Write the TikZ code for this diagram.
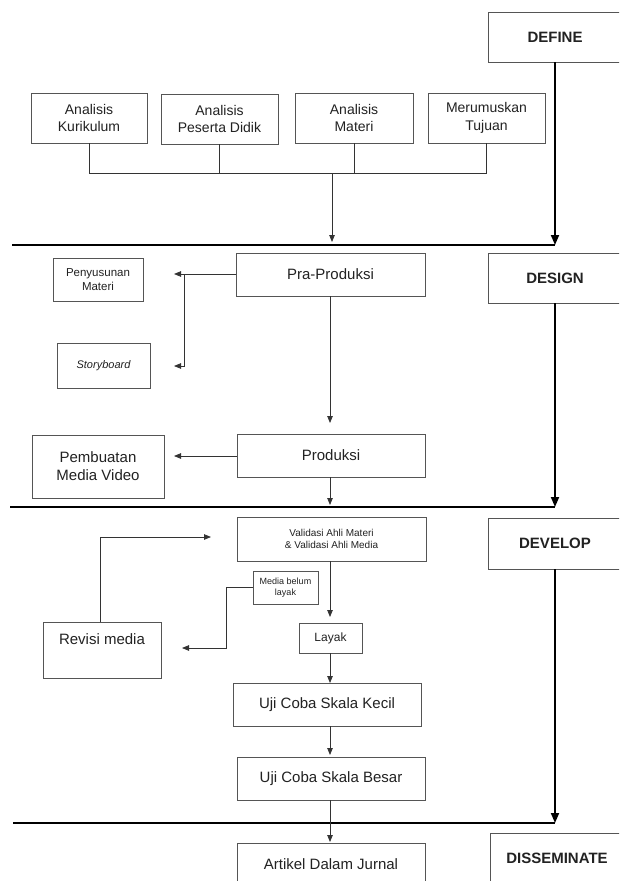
\documentclass[tikz,border=0pt]{standalone}
\usepackage{fontspec}
\setmainfont{Liberation Sans}
\usetikzlibrary{arrows.meta}
\definecolor{boxgray}{HTML}{555555}
\definecolor{txt}{HTML}{222222}
\definecolor{lin}{HTML}{333333}
\begin{document}
\begin{tikzpicture}[x=1pt,y=-1pt,
  box/.style={draw=boxgray, line width=0.9pt, text=txt, align=center, inner sep=0pt, fill=white},
  phase/.style={box, font=\fontsize{15}{18}\selectfont\bfseries, minimum width=134pt, minimum height=50pt},
  f15/.style={font=\fontsize{15}{18}\selectfont},
  f14/.style={font=\fontsize{14}{17.5}\selectfont},
  conn/.style={draw=lin, line width=0.8pt, -{Triangle[length=7pt,width=5.5pt]}},
  plainline/.style={draw=lin, line width=0.8pt},
  bigline/.style={draw=black, line width=2.2pt},
  phasearrow/.style={draw=black, line width=1.8pt, -{Triangle[length=10pt,width=8pt]}}]
\useasboundingbox (0,0) rectangle (619,881);
\clip (0,0) rectangle (619,881);

% phase boxes
\node[phase] (define) at (555,37) {DEFINE};
\node[phase] (design) at (555,278) {DESIGN};
\node[phase, minimum height=51pt] (develop) at (555,543.5) {DEVELOP};
\node[phase] (dissem) at (557,858) {DISSEMINATE};

% define stage
\node[box, f14, minimum width=116pt, minimum height=50pt] (ak) at (89,118) {Analisis\\Kurikulum};
\node[box, f14, minimum width=117pt, minimum height=50pt] (apd) at (219.5,119) {Analisis\\Peserta Didik};
\node[box, f14, minimum width=118pt, minimum height=50pt] (am) at (354,118) {Analisis\\Materi};
\node[box, f14, minimum width=117pt, minimum height=50pt] (mt) at (486.5,118) {Merumuskan\\Tujuan};

\coordinate (bar) at (332,173);
\draw[plainline] (ak.south) -- (ak.south |- bar) -- (mt.south |- bar) -- (mt.south);
\draw[plainline] (apd.south) -- (apd.south |- bar);
\draw[plainline] (am.south) -- (am.south |- bar);

% phase line 1
\coordinate (l1w) at (12,245);
\coordinate (l1e) at (555,245);
\draw[bigline] (l1w) -- (l1e);
\draw[phasearrow] (define.south) -- (l1e);
\draw[conn] (bar) -- (332,242);

% design stage
\node[box, f15, minimum width=189pt, minimum height=43pt] (pra) at (330.5,274.5) {Pra-Produksi};
\node[box, font=\fontsize{11.5}{14}\selectfont, minimum width=90pt, minimum height=43pt] (pm) at (98,279.5) {Penyusunan\\Materi};
\node[box, font=\fontsize{11}{13}\selectfont\itshape, minimum width=93pt, minimum height=45pt] (sb) at (103.5,365.5) {Storyboard};
\coordinate (pmend) at (174,274);
\coordinate (split) at (184,274);
\coordinate (sbend) at (174,366);
\draw[conn] (pra.west |- pmend) -- (pmend);
\draw[conn] (split) -- (split |- sbend) -- (sbend);

\node[box, f15, minimum width=188pt, minimum height=43pt] (prod) at (331,455.5) {Produksi};
\node[box, f15, minimum width=132pt, minimum height=63pt] (pmv) at (98,466.5) {Pembuatan\\Media Video};
\coordinate (prodtip) at (330,423);
\draw[conn] (330,296) -- (prodtip);
\coordinate (pmvend) at (174,456);
\draw[conn] (prod.west |- pmvend) -- (pmvend);

% phase line 2
\coordinate (l2w) at (10,507);
\coordinate (l2e) at (555,507);
\draw[bigline] (l2w) -- (l2e);
\draw[phasearrow] (design.south) -- (l2e);
\draw[conn] (330,477) -- (330,505);

% develop stage
\node[box, font=\fontsize{10}{12.5}\selectfont, minimum width=189pt, minimum height=44pt] (val) at (331.5,539) {Validasi Ahli Materi\\\& Validasi Ahli Media};
\node[box, font=\fontsize{9}{11.5}\selectfont, minimum width=65pt, minimum height=33pt] (mbl) at (285.5,587.5) {Media belum\\layak};
\node[box, f15, minimum width=118pt, minimum height=56pt, text height=11pt, text depth=23pt] (rev) at (102,650) {Revisi media};
\node[box, font=\fontsize{12}{14}\selectfont, minimum width=63pt, minimum height=30pt] (lay) at (330.5,638) {Layak};

\coordinate (revtip) at (211,537);
\draw[conn] (rev.north -| 100,0) -- (100,537) -- (revtip);
\coordinate (mbltip) at (182,648);
\draw[conn] (mbl.west) -- (226,587.5) -- (226,648) -- (mbltip);
\draw[conn] (330,561) -- (330,617);
\draw[conn] (330,653) -- (330,683);

\node[box, f15, minimum width=188pt, minimum height=43pt] (ujk) at (327,704.5) {Uji Coba Skala Kecil};
\node[box, f15, minimum width=188pt, minimum height=43pt] (ujb) at (331,778.5) {Uji Coba Skala Besar};
\draw[conn] (330,726) -- (330,755);

% phase line 3
\coordinate (l3w) at (13,823);
\coordinate (l3e) at (555,823);
\draw[bigline] (l3w) -- (l3e);
\draw[phasearrow] (develop.south) -- (l3e);

\node[box, f15, minimum width=188pt, minimum height=43pt] (art) at (331,864.5) {Artikel Dalam Jurnal};
\draw[conn] (330,800) -- (330,842);
\end{tikzpicture}
\end{document}
